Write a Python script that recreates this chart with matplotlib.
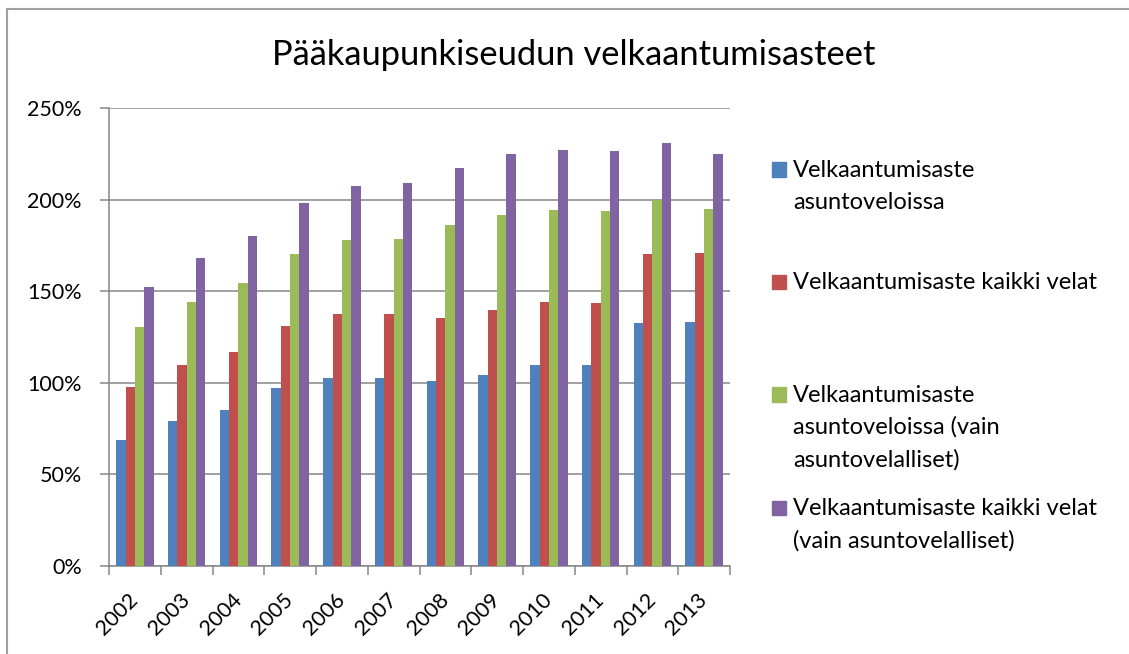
import numpy as np
import matplotlib
matplotlib.use('Agg')
import matplotlib.pyplot as plt
from matplotlib.lines import Line2D
from matplotlib.patches import Rectangle

years = ['2002', '2003', '2004', '2005', '2006', '2007',
         '2008', '2009', '2010', '2011', '2012', '2013']

# velkaantumisasteet, %
asuntovelat = [68.7, 79.1, 85.3, 97.1, 102.6, 102.4, 100.9, 104.4, 109.5, 109.5, 132.5, 133.2]
kaikki_velat = [97.5, 109.7, 116.8, 131.1, 137.5, 137.3, 135.2, 139.6, 144.1, 143.4, 170.3, 170.7]
asuntovelat_vain = [130.4, 144.3, 154.7, 170.2, 178.0, 178.7, 186.0, 191.8, 194.2, 193.8, 199.8, 194.9]
kaikki_vain = [152.3, 168.0, 180.2, 198.0, 207.3, 209.0, 217.2, 225.0, 227.0, 226.4, 231.0, 225.0]

labels = [['Velkaantumisaste', 'asuntoveloissa'],
          ['Velkaantumisaste kaikki velat'],
          ['Velkaantumisaste', 'asuntoveloissa (vain', 'asuntovelalliset)'],
          ['Velkaantumisaste kaikki velat', '(vain asuntovelalliset)']]
colors = ['#4F81BD', '#C0504D', '#9BBB59', '#8064A2']

plt.rcParams['font.family'] = ['Lato', 'DejaVu Sans']

W, H = 1129, 654
fig = plt.figure(figsize=(W / 100, H / 100), dpi=100)
ax = fig.add_axes([109 / W, 1 - 566 / H, 621 / W, 458 / H])

series = [asuntovelat, kaikki_velat, asuntovelat_vain, kaikki_vain]
x = np.arange(len(years))
bw = 0.18
for i, vals in enumerate(series):
    ax.bar(x + (i - 1.5) * bw, vals, bw, color=colors[i], zorder=3)

ax.set_xlim(-0.5, len(years) - 0.5)
ax.set_ylim(0, 250)
ax.set_yticks(np.arange(0, 251, 50))
ax.set_yticklabels([f'{v}%' for v in range(0, 251, 50)])
ax.yaxis.grid(True, color='#868686', linewidth=1.1, zorder=0)

ax.set_xticks(x)
ax.set_xticklabels(years, rotation=45, ha='right', va='center', rotation_mode='anchor')
ax.set_xticks(np.arange(-0.5, len(years)), minor=True)
ax.tick_params(axis='x', which='major', length=0, pad=22, labelsize=15.5)
ax.tick_params(axis='x', which='minor', length=6.5, width=1.1, color='#868686', direction='out')
ax.tick_params(axis='y', length=6.5, width=1.1, color='#868686', pad=13, labelsize=15.5)

for s in ['top', 'right']:
    ax.spines[s].set_visible(False)
for s in ['left', 'bottom']:
    ax.spines[s].set_color('#868686')
    ax.spines[s].set_linewidth(1.1)

fig.text(574 / W, 1 - 55 / H, 'Pääkaupunkiseudun velkaantumisasteet',
         ha='center', va='center', fontsize=24.8)

# legend, drawn by hand to keep Excel's spacing
baselines = [176.7, 289, 401.7, 515]
line_h = 32.3
for lines, col, yb in zip(labels, colors, baselines):
    fig.patches.append(Rectangle((772 / W, 1 - yb / H), 14 / W, 14.5 / H,
                                 transform=fig.transFigure, color=col))
    for k, txt in enumerate(lines):
        fig.text(793 / W, 1 - (yb + k * line_h) / H, txt, ha='left', va='baseline',
                 fontsize=17)

# chart border (top and left only visible)
fig.add_artist(Line2D([7 / W, 7 / W], [0, 1 - 9 / H], color='#a0a0a0', linewidth=1.5,
                      transform=fig.transFigure))
fig.add_artist(Line2D([7 / W, 1], [1 - 9 / H, 1 - 9 / H], color='#a0a0a0', linewidth=1.5,
                      transform=fig.transFigure))

fig.savefig('out.png', dpi=100)
